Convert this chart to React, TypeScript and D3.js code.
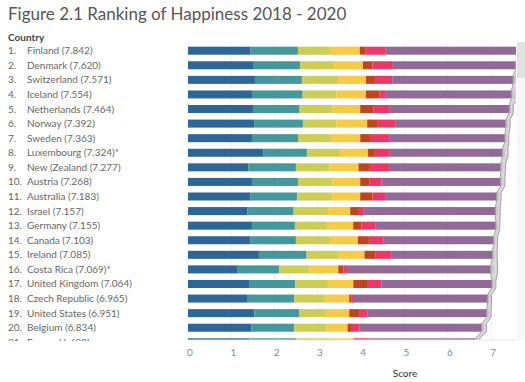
import React from "react";
import * as d3 from "d3";

const countries = ["Finland","Denmark","Switzerland","Iceland","Netherlands","Norway","Sweden","Luxembourg","New (Zealand","Austria","Australia","Israel","Germany","Canada","Ireland","Costa Rica","United Kingdom","Czech Republic","United States","Belgium","France"];
const scores = [7.842,7.620,7.571,7.554,7.464,7.392,7.363,7.324,7.277,7.268,7.183,7.157,7.155,7.103,7.085,7.069,7.064,6.965,6.951,6.834,6.690];
const starred = ["Luxembourg","Costa Rica"];

const gdp =        [1.446,1.500,1.546,1.477,1.500,1.538,1.477,1.746,1.392,1.477,1.446,1.377,1.477,1.446,1.638,1.131,1.408,1.362,1.531,1.462,1.423];
const social =     [1.092,1.085,1.085,1.169,1.077,1.115,1.062,1.000,1.100,1.062,1.077,1.062,0.992,1.046,1.100,0.969,1.062,1.092,1.031,0.992,1.077];
const health =     [0.738,0.785,0.831,0.785,0.754,0.777,0.762,0.762,0.777,0.800,0.800,0.792,0.738,0.785,0.746,0.708,0.762,0.708,0.623,0.746,0.815];
const freedom =    [0.692,0.669,0.646,0.677,0.646,0.708,0.677,0.646,0.669,0.638,0.654,0.515,0.608,0.646,0.592,0.662,0.585,0.562,0.538,0.485,0.515];
const generosity = [0.123,0.223,0.208,0.308,0.300,0.246,0.246,0.162,0.262,0.208,0.285,0.200,0.192,0.254,0.246,0.115,0.338,0.046,0.246,0.100,0.050];
const corruption = [0.477,0.469,0.400,0.154,0.385,0.415,0.438,0.346,0.462,0.285,0.308,0.115,0.315,0.331,0.369,0.085,0.308,0.062,0.169,0.169,0.315];
const dystopia =   [3.274,2.889,2.855,2.984,2.802,2.593,2.701,2.662,2.615,2.798,2.613,3.096,2.833,2.595,2.394,3.399,2.601,3.133,2.813,2.880,2.495];

const whiskerLow =  [7.80,7.57,7.51,7.47,7.42,7.34,7.32,7.26,7.22,7.22,7.13,7.10,7.11,7.06,7.03,6.99,7.02,6.92,6.90,6.78,6.64];
const whiskerHigh = [7.89,7.67,7.63,7.63,7.51,7.44,7.41,7.39,7.33,7.32,7.23,7.21,7.20,7.15,7.14,7.15,7.11,7.01,7.00,6.89,6.74];

const xTicks = [0,1,2,3,4,5,6,7];
const factorKeys = ["gdp","social","health","freedom","generosity","corruption","dystopia"];
const factorColors = ["#2d6697","#44979a","#cccd54","#f6cb45","#c0441f","#ec3868","#916a98"];

const FONT = "Lato, 'Open Sans', sans-serif";

export default function App() {
  const W = 525, H = 382;
  const x = d3.scaleLinear().domain([0, 7]).range([188, 491.1]);
  const step = 14.58;
  const y = d3.scaleBand<string>()
    .domain(countries)
    .range([43.41, 43.41 + step * countries.length])
    .paddingInner(0.45)
    .paddingOuter(0.225);

  const rows = countries.map((c, i) => ({
    country: c,
    gdp: gdp[i], social: social[i], health: health[i], freedom: freedom[i],
    generosity: generosity[i], corruption: corruption[i], dystopia: dystopia[i],
  }));
  const stack = d3.stack<any>().keys(factorKeys);
  const series = stack(rows);

  const bw = y.bandwidth();
  const wPts: { y: number; lo: number; hi: number }[] = [];
  countries.forEach((c, i) => {
    const yc = (y(c) as number) + bw / 2;
    wPts.push({ y: yc - bw / 2, lo: whiskerLow[i], hi: whiskerHigh[i] });
    wPts.push({ y: yc + bw / 2, lo: whiskerLow[i], hi: whiskerHigh[i] });
  });
  const area = d3.area<any>().y((d) => d.y).x0((d) => x(d.lo)).x1((d) => x(d.hi));
  const loLine = d3.line<any>().y((d) => d.y).x((d) => x(d.lo));
  const hiLine = d3.line<any>().y((d) => d.y).x((d) => x(d.hi));

  return (
    <div style={{ position: "absolute", left: 0, top: 0 }}>
      <svg width={W} height={H} style={{ display: "block", background: "#fff" }}>
        <defs>
          <clipPath id="plotClip">
            <rect x={186} y={40} width={330} height={300} />
          </clipPath>
          <clipPath id="labelClip">
            <rect x={0} y={40} width={186} height={301} />
          </clipPath>
        </defs>
        <text x={8} y={20} fontFamily={FONT} fontSize={17} fill="#555">
          Figure 2.1 Ranking of Happiness 2018 - 2020
        </text>
        <text x={8} y={41} fontFamily={FONT} fontSize={10} fontWeight={700} fill="#444">
          Country
        </text>

        {/* scrollbar */}
        <rect x={517} y={42} width={8} height={298} fill="#f7f7f7" />
        <rect x={517} y={42} width={8} height={36} fill="#e2e2e2" />

        <g clipPath="url(#plotClip)">
          {xTicks.map((t) => (
            <line key={t} x1={x(t)} x2={x(t)} y1={42} y2={340} stroke="#f0f0f0" strokeWidth={1} />
          ))}
          {series.map((s, k) => (
            <g key={factorKeys[k]} fill={factorColors[k]}>
              {s.map((d: any, i: number) => (
                <rect key={i} x={x(d[0])} y={y(countries[i])} width={Math.max(0, x(d[1]) - x(d[0]))} height={bw} />
              ))}
            </g>
          ))}
          <path d={area(wPts) || ""} fill="#d2d2d2" fillOpacity={0.85} />
          <path d={loLine(wPts) || ""} fill="none" stroke="#a0a0a0" strokeWidth={1} />
          <path d={hiLine(wPts) || ""} fill="none" stroke="#a0a0a0" strokeWidth={1} />
        </g>
        <line x1={186} x2={516} y1={340} y2={340} stroke="#e6e6e6" strokeWidth={1} />

        <g clipPath="url(#labelClip)" fontFamily={FONT} fontSize={10} fill="#666">
          {countries.map((c, i) => {
            const yc = (y(c) as number) + bw / 2;
            return (
              <g key={c}>
                <text x={8} y={yc + 3.5}>{`${i + 1}.`}</text>
                <text x={27} y={yc + 3.5}>
                  {`${c} (${scores[i].toFixed(3)})${starred.includes(c) ? "*" : ""}`}
                </text>
              </g>
            );
          })}
        </g>

        <g fontFamily={FONT} fontSize={10} fill="#888" textAnchor="middle">
          {xTicks.map((t) => (
            <text key={t} x={x(t) + 2} y={356}>{t}</text>
          ))}
        </g>
        <text x={405} y={377} fontFamily={FONT} fontSize={10} fill="#333" textAnchor="middle">
          Score
        </text>
      </svg>
    </div>
  );
}
